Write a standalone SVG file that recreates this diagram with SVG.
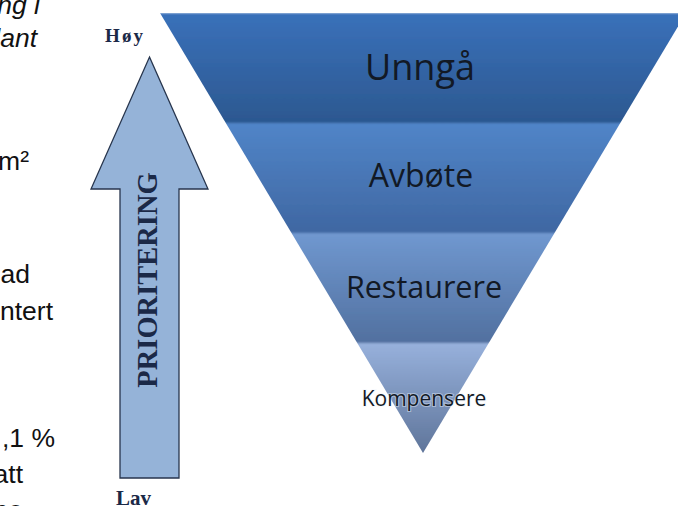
<svg xmlns="http://www.w3.org/2000/svg" width="678" height="506" viewBox="0 0 678 506">
<style>
.doc{font-family:"Liberation Sans",Arial,sans-serif;font-size:26.5px;fill:#111;}
.it{font-style:italic;}
.lvl{font-family:"Open Sans","Liberation Sans",sans-serif;fill:#121925;text-anchor:middle;}
.ser{font-family:"Liberation Serif","Times New Roman",serif;font-weight:bold;fill:#1b2947;}
</style>
<defs>
<clipPath id="tri"><polygon points="160,13 686,13 423,453"/></clipPath>
<linearGradient id="g1" x1="0" y1="0" x2="0" y2="1"><stop offset="0" stop-color="#3a71ba"/><stop offset="1" stop-color="#2c5890"/></linearGradient>
<linearGradient id="g2" x1="0" y1="0" x2="0" y2="1"><stop offset="0" stop-color="#5185c8"/><stop offset="1" stop-color="#3f67a2"/></linearGradient>
<linearGradient id="g3" x1="0" y1="0" x2="0" y2="1"><stop offset="0" stop-color="#7098d0"/><stop offset="1" stop-color="#51709f"/></linearGradient>
<linearGradient id="g4" x1="0" y1="0" x2="0" y2="1"><stop offset="0" stop-color="#97b1dc"/><stop offset="1" stop-color="#5e7499"/></linearGradient>
<filter id="soft" x="-5%" y="-5%" width="110%" height="110%"><feGaussianBlur stdDeviation="0.8"/></filter>
<filter id="glow" x="-10%" y="-30%" width="120%" height="160%"><feMorphology in="SourceAlpha" operator="dilate" radius="1"/><feGaussianBlur stdDeviation="1.2"/><feComponentTransfer><feFuncA type="linear" slope="0.6"/></feComponentTransfer><feFlood flood-color="#ffffff"/><feComposite operator="in" in2="SourceAlpha"/><feMerge><feMergeNode/><feMergeNode in="SourceGraphic"/></feMerge></filter>
</defs>
<rect width="678" height="506" fill="#ffffff"/>
<g id="doc-text">
<text class="doc it" x="40" y="14" text-anchor="end">ng i</text>
<text class="doc it" x="37" y="47" text-anchor="end">lant</text>
<text class="doc" x="29" y="170" text-anchor="end">m²</text>
<text class="doc" x="30" y="283" text-anchor="end">ad</text>
<text class="doc" x="53" y="320" text-anchor="end">ntert</text>
<text class="doc" x="55" y="447" text-anchor="end">,1 %</text>
<text class="doc" x="23" y="483" text-anchor="end">att</text>
<text class="doc" x="23" y="519" text-anchor="end">ne</text>
</g>
<g id="funnel">
<g clip-path="url(#tri)" filter="url(#soft)">
<rect x="150" y="13" width="540" height="110" fill="url(#g1)"/>
<rect x="150" y="123" width="540" height="110" fill="url(#g2)"/>
<rect x="150" y="233" width="540" height="110" fill="url(#g3)"/>
<rect x="150" y="343" width="540" height="112" fill="url(#g4)"/>
</g>
</g>
<g id="unnga"><text class="lvl" x="420" y="80" font-size="36">Unngå</text></g>
<g id="avbote"><text class="lvl" x="421" y="187" font-size="32">Avbøte</text></g>
<g id="restaurere"><text class="lvl" x="424" y="298" font-size="30.5">Restaurere</text></g>
<g id="kompensere"><text class="lvl" x="424" y="406" font-size="21" stroke="#eef3fb" stroke-width="2.2" stroke-opacity="0.45" paint-order="stroke">Kompensere</text></g>
<g id="arrow">
<polygon points="149.5,57 208,189 179,189 179,478 120,478 120,189 91,189" fill="#95b3d8" stroke="#27354d" stroke-width="1.3" stroke-linejoin="miter"/>
<text class="ser" transform="translate(157,280) rotate(-90)" text-anchor="middle" font-size="28.5">PRIORITERING</text>
</g>
<g id="hoy"><text class="ser" x="105" y="42" font-size="19" textLength="38">Høy</text></g>
<g id="lav"><text class="ser" x="116" y="505" font-size="21">Lav</text></g>
<g id="connectors"></g>
</svg>
